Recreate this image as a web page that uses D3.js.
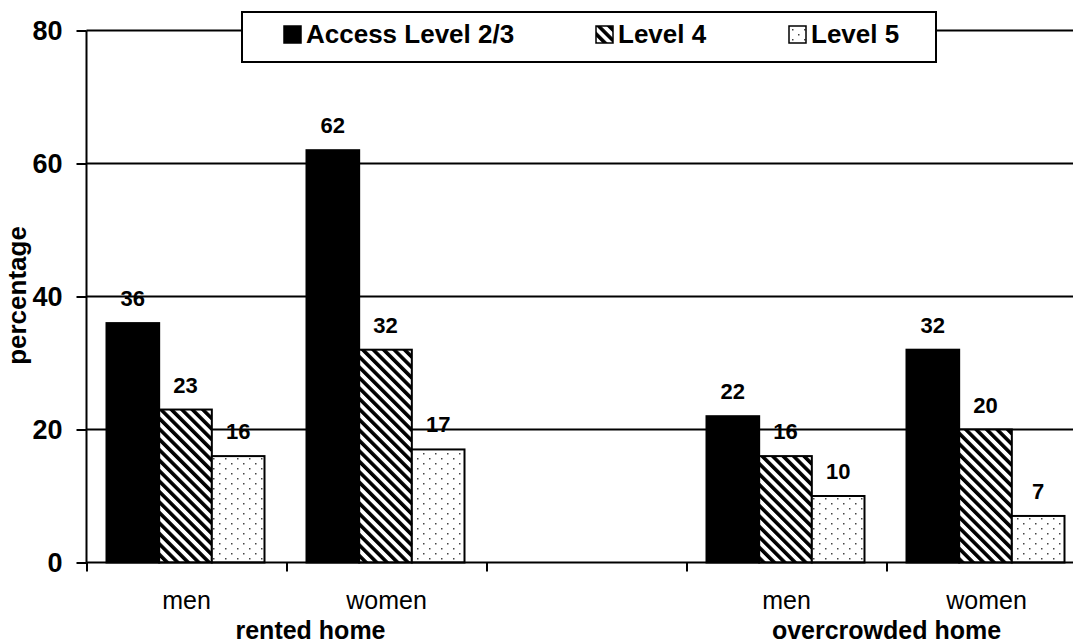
<!DOCTYPE html>
<html>
<head>
<meta charset="utf-8">
<script src="https://cdn.jsdelivr.net/npm/d3@7"></script>
<style>
  html, body { margin: 0; padding: 0; background: #fff; }
  svg { display: block; font-family: Arial, "Liberation Sans", sans-serif; }
</style>
</head>
<body>
<script>
// Chart data
const categories = ["men", "women", "", "men", "women"];
const groupLabels = ["rented home", "overcrowded home"];
const groupPositions = [1.12, 4];   // in category-index units
const series = ["Access Level 2/3", "Level 4", "Level 5"];
const accessLevel23 = [36, 62, null, 22, 32];
const level4 = [23, 32, null, 16, 20];
const level5 = [16, 17, null, 10, 7];
const yTicks = [0, 20, 40, 60, 80];

const width = 1073;
const height = 643;
const margin = { top: 30.5, left: 86.5, bottom: 80.5 };
const slot = 200;

const values = [accessLevel23, level4, level5];

const svg = d3.select("body").append("svg")
    .attr("width", width)
    .attr("height", height);

const defs = svg.append("defs");

// diagonal hatch "\"
const hatch = defs.append("pattern")
    .attr("id", "hatch")
    .attr("patternUnits", "userSpaceOnUse")
    .attr("width", 7.4)
    .attr("height", 7.4)
    .attr("patternTransform", "rotate(-45)");
hatch.append("rect").attr("width", 7.4).attr("height", 7.4).attr("fill", "#fff");
hatch.append("rect").attr("width", 3.6).attr("height", 7.4).attr("fill", "#000");

// dotted
const dots = defs.append("pattern")
    .attr("id", "dots")
    .attr("patternUnits", "userSpaceOnUse")
    .attr("width", 12)
    .attr("height", 10);
dots.append("rect").attr("width", 12).attr("height", 10).attr("fill", "#fff");
dots.append("rect").attr("x", 3).attr("y", 3).attr("width", 1.5).attr("height", 1.5).attr("fill", "#444");
dots.append("rect").attr("x", 9).attr("y", 8).attr("width", 1.5).attr("height", 1.5).attr("fill", "#444");

const fills = ["#000", "url(#hatch)", "url(#dots)"];

// scales
const xIdx = d3.scaleLinear()
    .domain([0, categories.length])
    .range([margin.left, margin.left + slot * categories.length]);

const x = d3.scaleBand()
    .domain(d3.range(categories.length))
    .range([margin.left, margin.left + slot * categories.length]);

const xs = d3.scaleBand()
    .domain(d3.range(series.length))
    .range([20, 178]);

const y = d3.scaleLinear()
    .domain([0, 80])
    .range([height - margin.bottom, margin.top]);

// gridlines
svg.append("g")
    .selectAll("line")
    .data(yTicks.filter(d => d > 0))
    .join("line")
    .attr("x1", margin.left)
    .attr("x2", width)
    .attr("y1", d => y(d))
    .attr("y2", d => y(d))
    .attr("stroke", "#000")
    .attr("stroke-width", 2);

// bars
const rows = [];
categories.forEach((c, i) => {
    values.forEach((v, s) => {
        if (v[i] != null) rows.push({ i, s, v: v[i] });
    });
});

svg.append("g")
    .selectAll("rect")
    .data(rows)
    .join("rect")
    .attr("x", d => x(d.i) + xs(d.s))
    .attr("y", d => y(d.v))
    .attr("width", xs.bandwidth())
    .attr("height", d => y(0) - y(d.v))
    .attr("fill", d => fills[d.s])
    .attr("stroke", "#000")
    .attr("stroke-width", 2);

// value labels
svg.append("g")
    .style("font-size", "22px")
    .style("font-weight", "bold")
    .attr("text-anchor", "middle")
    .selectAll("text")
    .data(rows)
    .join("text")
    .attr("x", d => x(d.i) + xs(d.s) + xs.bandwidth() / 2)
    .attr("y", d => y(d.v) - 17)
    .text(d => d.v);

// y axis
svg.append("g")
    .attr("transform", `translate(${margin.left},0)`)
    .call(d3.axisLeft(y).tickValues(yTicks).tickSize(10).tickPadding(14))
    .call(g => g.select(".domain").attr("stroke-width", 2).attr("d", `M0,${y(80)}V${y(0)}`))
    .call(g => g.selectAll(".tick line").attr("stroke-width", 2))
    .call(g => g.selectAll(".tick text")
        .attr("fill", "#000")
        .style("font-size", "27px")
        .style("font-weight", "bold")
        .style("font-family", "Arial, 'Liberation Sans', sans-serif"));

// x axis (ticks at category boundaries)
svg.append("g")
    .attr("transform", `translate(0,${y(0)})`)
    .call(d3.axisBottom(xIdx).tickValues(d3.range(categories.length + 1)).tickSize(9).tickFormat(""))
    .call(g => g.select(".domain").attr("stroke-width", 2).attr("d", `M${margin.left},0H${width}`))
    .call(g => g.selectAll(".tick line").attr("stroke-width", 2));

// category labels
svg.append("g")
    .style("font-size", "25px")
    .attr("text-anchor", "middle")
    .selectAll("text")
    .data(categories)
    .join("text")
    .attr("x", (d, i) => x(i) + x.bandwidth() / 2)
    .attr("y", 609)
    .text(d => d);

svg.append("g")
    .style("font-size", "25px")
    .style("font-weight", "bold")
    .attr("text-anchor", "middle")
    .selectAll("text")
    .data(groupLabels)
    .join("text")
    .attr("x", (d, i) => xIdx(groupPositions[i]))
    .attr("y", 639)
    .text(d => d);

// y title
svg.append("text")
    .attr("transform", `translate(25.5,${y(40) - 1})rotate(-90)`)
    .attr("text-anchor", "middle")
    .style("font-size", "26px")
    .style("font-weight", "bold")
    .text("percentage");

// legend
const legend = svg.append("g");
legend.append("rect")
    .attr("x", 242)
    .attr("y", 12)
    .attr("width", 694)
    .attr("height", 50)
    .attr("fill", "#fff")
    .attr("stroke", "#000")
    .attr("stroke-width", 2);

const legendX = [284, 596, 789];
const item = legend.selectAll("g")
    .data(series)
    .join("g")
    .attr("transform", (d, i) => `translate(${legendX[i]},26)`);

item.append("rect")
    .attr("width", 17)
    .attr("height", 17)
    .attr("fill", (d, i) => fills[i])
    .attr("stroke", "#000")
    .attr("stroke-width", 1.5);

item.append("text")
    .attr("x", 22)
    .attr("y", 17)
    .style("font-size", "26px")
    .style("font-weight", "bold")
    .text(d => d);
</script>
</body>
</html>
